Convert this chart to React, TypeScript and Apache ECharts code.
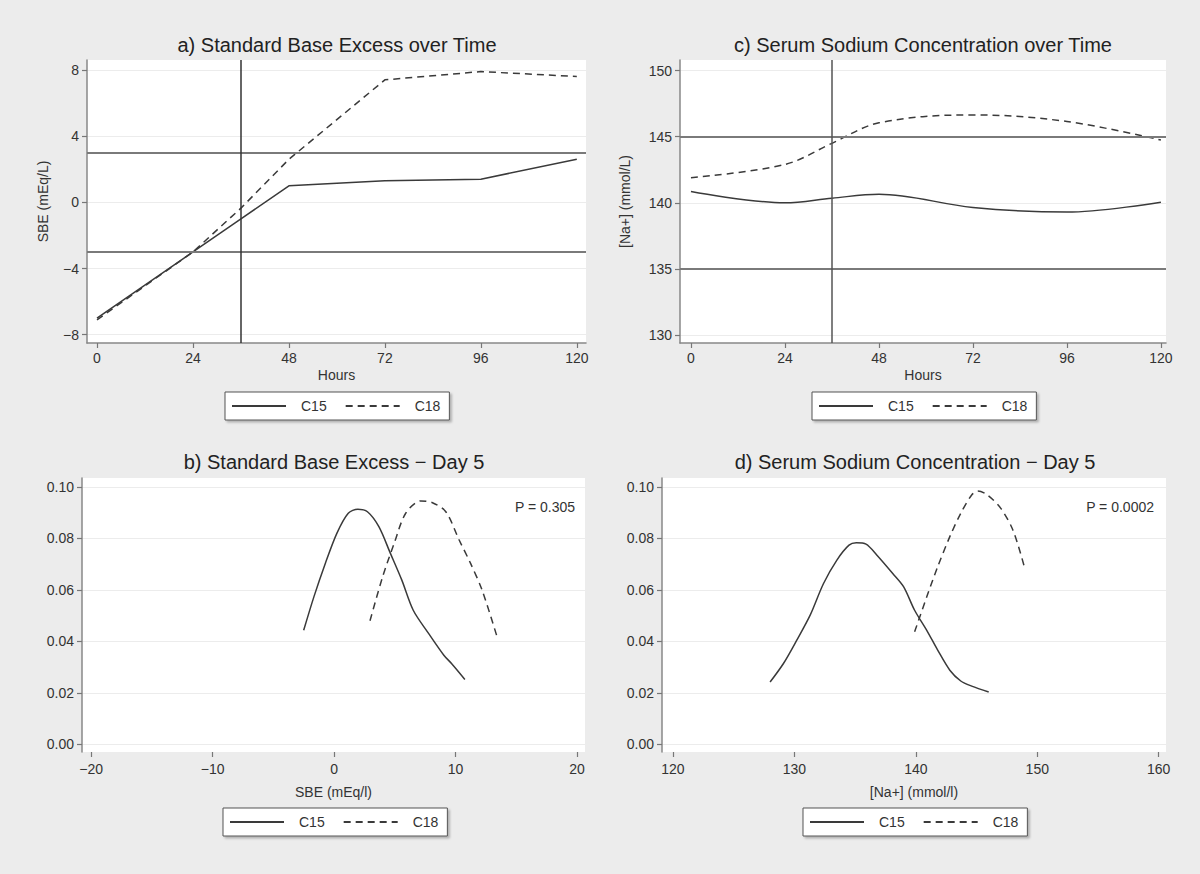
import React, { useEffect, useRef } from "react";
import * as echarts from "echarts";

// ---- Data ----
const hours = [0, 24, 36, 48, 72, 96, 120];
const sbeC15 = [-7.0, -3.0, -1.0, 1.0, 1.3, 1.4, 2.6];
const sbeC18 = [-7.1, -3.0, -0.35, 2.6, 7.4, 7.9, 7.6];
const naC15 = [140.85, 140.0, 140.35, 140.65, 139.65, 139.3, 140.05];
const naC18 = [141.9, 142.9, 144.5, 146.05, 146.65, 146.15, 144.75];

const sbeDay5C15: [number, number][] = [
  [-2.5, 0.0443], [-1.66, 0.0573], [-0.72, 0.0703], [0.23, 0.082], [1.17, 0.0898],
  [1.96, 0.0914], [2.75, 0.0904], [3.69, 0.0846], [4.64, 0.0742], [5.58, 0.0638],
  [6.52, 0.0521], [7.78, 0.0431], [9.04, 0.0346], [9.67, 0.0314], [10.77, 0.0252],
];
const sbeDay5C18: [number, number][] = [
  [2.96, 0.048], [4.0, 0.0651], [4.95, 0.0781], [5.9, 0.0898], [7.15, 0.0946],
  [8.1, 0.0939], [9.2, 0.0904], [10.3, 0.0794], [11.24, 0.0703], [12.19, 0.0599], [13.38, 0.0424],
];
const naDay5C15: [number, number][] = [
  [128.0, 0.0242], [129.1, 0.0314], [130.2, 0.0405], [131.3, 0.0502], [132.4, 0.0625],
  [133.5, 0.0716], [134.5, 0.0774], [135.1, 0.0783], [135.9, 0.0778], [136.8, 0.0735],
  [138.1, 0.0664], [139.0, 0.0612], [139.9, 0.0521], [140.9, 0.0443], [141.8, 0.0366],
  [142.8, 0.0288], [143.7, 0.0246], [144.6, 0.0226], [146.0, 0.0203],
];
const naDay5C18: [number, number][] = [
  [139.9, 0.0437], [140.9, 0.0573], [141.8, 0.069], [142.8, 0.0807], [143.7, 0.0898],
  [144.6, 0.0969], [145.1, 0.0984], [145.9, 0.0969], [147.0, 0.0917], [148.0, 0.0832], [148.9, 0.0696],
];

const hourTicks = [0, 24, 48, 72, 96, 120];
const sbeTicks = [-8, -4, 0, 4, 8];
const naTicks = [130, 135, 140, 145, 150];
const densTicks = [0, 0.02, 0.04, 0.06, 0.08, 0.1];
const sbeDayTicks = [-20, -10, 0, 10, 20];
const naDayTicks = [120, 130, 140, 150, 160];

const sbeRefLines = [3, -3];
const naRefLines = [145, 135];
const timeRef = 36;

const pSbe = "P = 0.305";
const pNa = "P = 0.0002";

const titles = [
  "a) Standard Base Excess over Time",
  "c) Serum Sodium Concentration over Time",
  "b) Standard Base Excess \u2212 Day 5",
  "d) Serum Sodium Concentration \u2212 Day 5",
];

const FONT = "'Liberation Sans', Arial, sans-serif";
const minus = (v: number) => String(v).replace("-", "\u2212");

export default function App() {
  const ref = useRef<HTMLDivElement>(null);

  useEffect(() => {
    if (!ref.current) return;
    const chart = echarts.init(ref.current, undefined, { renderer: "svg" });

    const lbl = { color: "#333", fontSize: 14, fontFamily: FONT };
    const nameStyle = { color: "#333", fontSize: 14, fontFamily: FONT };

    const mkX = (gi: number, min: number, max: number, ticks: number[], opts: any = {}) => ({
      type: "value",
      gridIndex: gi,
      min,
      max,
      axisLine: { show: opts.line !== false, onZero: false, lineStyle: { color: "#888", width: 1.5 } },
      axisTick: { show: true, length: 5, customValues: ticks, lineStyle: { color: "#777", width: 1.2 } },
      axisLabel: { ...lbl, margin: opts.margin ?? 8, customValues: ticks, formatter: (v: number) => minus(v) },
      splitLine: { show: false },
      name: opts.name,
      nameLocation: "middle",
      nameGap: opts.nameGap ?? 25,
      nameTextStyle: nameStyle,
    });
    const mkY = (gi: number, min: number, max: number, ticks: number[], opts: any = {}) => ({
      type: "value",
      gridIndex: gi,
      min,
      max,
      axisLine: { show: true, onZero: false, lineStyle: { color: "#888", width: 1.5 } },
      axisTick: { show: true, length: 5, customValues: ticks, lineStyle: { color: "#777", width: 1.2 } },
      axisLabel: {
        ...lbl,
        margin: 8,
        customValues: ticks,
        formatter: opts.fmt ?? ((v: number) => minus(v)),
      },
      splitLine: { show: true, lineStyle: { color: "#ececec", width: 1 } },
      name: opts.name,
      nameLocation: "middle",
      nameGap: opts.nameGap ?? 38,
      nameTextStyle: nameStyle,
    });

    const lineC15 = { color: "#3a3a3a", width: 1.5, type: "solid" as const };
    const lineC18 = { color: "#3a3a3a", width: 1.5, type: [7, 5] as any };

    const refMark = (hLines: number[], vLine: number, vColor: string) => ({
      silent: true,
      symbol: ["none", "none"],
      label: { show: false },
      animation: false,
      data: [
        ...hLines.map((y) => ({ yAxis: y, lineStyle: { color: "#7a7a7a", width: 2, type: "solid" } })),
        { xAxis: vLine, lineStyle: { color: vColor, width: 1.5, type: "solid" } },
      ],
    });

    const legendBase = {
      orient: "horizontal",
      selectedMode: false,
      data: ["C15", "C18"],
      itemWidth: 54,
      itemHeight: 12,
      itemGap: 18,
      padding: [7, 9, 7, 6],
      backgroundColor: "#fff",
      borderColor: "#555",
      borderWidth: 1,
      borderRadius: 0,
      shadowColor: "rgba(0,0,0,0.25)",
      shadowBlur: 2,
      shadowOffsetX: 2,
      shadowOffsetY: 2,
      itemStyle: { opacity: 0 },
      textStyle: { color: "#333", fontSize: 14, fontFamily: FONT, padding: [0, 0, 0, 10] },
    };

    const titleBase = (text: string, left: number, top: number) => ({
      text,
      left,
      top,
      textAlign: "center",
      padding: 0,
      textStyle: { color: "#222", fontSize: 20, fontWeight: "normal", fontFamily: FONT },
    });

    const option: any = {
      animation: false,
      backgroundColor: "#ececec",
      title: [
        titleBase(titles[0], 337, 35),
        titleBase(titles[1], 923, 35),
        titleBase(titles[2], 334, 452),
        titleBase(titles[3], 915, 452),
      ],
      grid: [
        { left: 87, top: 60, width: 499, height: 283, show: true, backgroundColor: "#fff", borderWidth: 0 },
        { left: 680, top: 60, width: 486, height: 283, show: true, backgroundColor: "#fff", borderWidth: 0 },
        { left: 82, top: 478, width: 503, height: 274, show: true, backgroundColor: "#fff", borderWidth: 0 },
        { left: 662, top: 478, width: 504, height: 274, show: true, backgroundColor: "#fff", borderWidth: 0 },
      ],
      xAxis: [
        mkX(0, -2.5, 122.3, hourTicks, { name: "Hours", nameGap: 25 }),
        mkX(1, -2.8, 121.3, hourTicks, { name: "Hours", nameGap: 25 }),
        mkX(2, -20.75, 20.66, sbeDayTicks, { name: "SBE (mEq/l)", nameGap: 33, margin: 10, line: false }),
        mkX(3, 119.1, 160.6, naDayTicks, { name: "[Na+] (mmol/l)", nameGap: 33, margin: 10, line: false }),
      ],
      yAxis: [
        mkY(0, -8.5, 8.6, sbeTicks, { name: "SBE (mEq/L)", nameGap: 37 }),
        mkY(1, 129.4, 150.8, naTicks, { name: "[Na+] (mmol/L)", nameGap: 48 }),
        mkY(2, -0.003, 0.1035, densTicks, { fmt: (v: number) => v.toFixed(2) }),
        mkY(3, -0.003, 0.1035, densTicks, { fmt: (v: number) => v.toFixed(2) }),
      ],
      legend: [
        { ...legendBase, left: 225, top: 392 },
        { ...legendBase, left: 812, top: 392 },
        { ...legendBase, left: 223, top: 808 },
        { ...legendBase, left: 803, top: 808 },
      ],
      series: [
        {
          name: "C15", type: "line", xAxisIndex: 0, yAxisIndex: 0, symbol: "none",
          data: hours.map((h, i) => [h, sbeC15[i]]), lineStyle: lineC15, itemStyle: { color: "#3a3a3a" },
          markLine: refMark(sbeRefLines, timeRef, "#333"),
        },
        {
          name: "C18", type: "line", xAxisIndex: 0, yAxisIndex: 0, symbol: "none",
          data: hours.map((h, i) => [h, sbeC18[i]]), lineStyle: lineC18, itemStyle: { color: "#3a3a3a" },
        },
        {
          name: "C15", type: "line", xAxisIndex: 1, yAxisIndex: 1, symbol: "none", smooth: 0.35,
          data: hours.map((h, i) => [h, naC15[i]]), lineStyle: lineC15, itemStyle: { color: "#3a3a3a" },
          markLine: refMark(naRefLines, timeRef, "#555"),
        },
        {
          name: "C18", type: "line", xAxisIndex: 1, yAxisIndex: 1, symbol: "none", smooth: 0.35,
          data: hours.map((h, i) => [h, naC18[i]]), lineStyle: lineC18, itemStyle: { color: "#3a3a3a" },
        },
        {
          name: "C15", type: "line", xAxisIndex: 2, yAxisIndex: 2, symbol: "none", smooth: 0.3,
          data: sbeDay5C15, lineStyle: lineC15, itemStyle: { color: "#3a3a3a" },
        },
        {
          name: "C18", type: "line", xAxisIndex: 2, yAxisIndex: 2, symbol: "none", smooth: 0.3,
          data: sbeDay5C18, lineStyle: lineC18, itemStyle: { color: "#3a3a3a" },
        },
        {
          name: "C15", type: "line", xAxisIndex: 3, yAxisIndex: 3, symbol: "none", smooth: 0.3,
          data: naDay5C15, lineStyle: lineC15, itemStyle: { color: "#3a3a3a" },
        },
        {
          name: "C18", type: "line", xAxisIndex: 3, yAxisIndex: 3, symbol: "none", smooth: 0.3,
          data: naDay5C18, lineStyle: lineC18, itemStyle: { color: "#3a3a3a" },
        },
      ],
      graphic: [
        {
          type: "text", x: 575, y: 507,
          style: { text: pSbe, fill: "#333", fontSize: 14, fontFamily: FONT, textAlign: "right", textVerticalAlign: "middle" },
        },
        {
          type: "text", x: 1154, y: 507,
          style: { text: pNa, fill: "#333", fontSize: 14, fontFamily: FONT, textAlign: "right", textVerticalAlign: "middle" },
        },
      ],
    };

    chart.setOption(option);
    return () => chart.dispose();
  }, []);

  return (
    <div
      ref={ref}
      style={{ position: "absolute", left: 0, top: 0, width: 1200, height: 874 }}
    />
  );
}
